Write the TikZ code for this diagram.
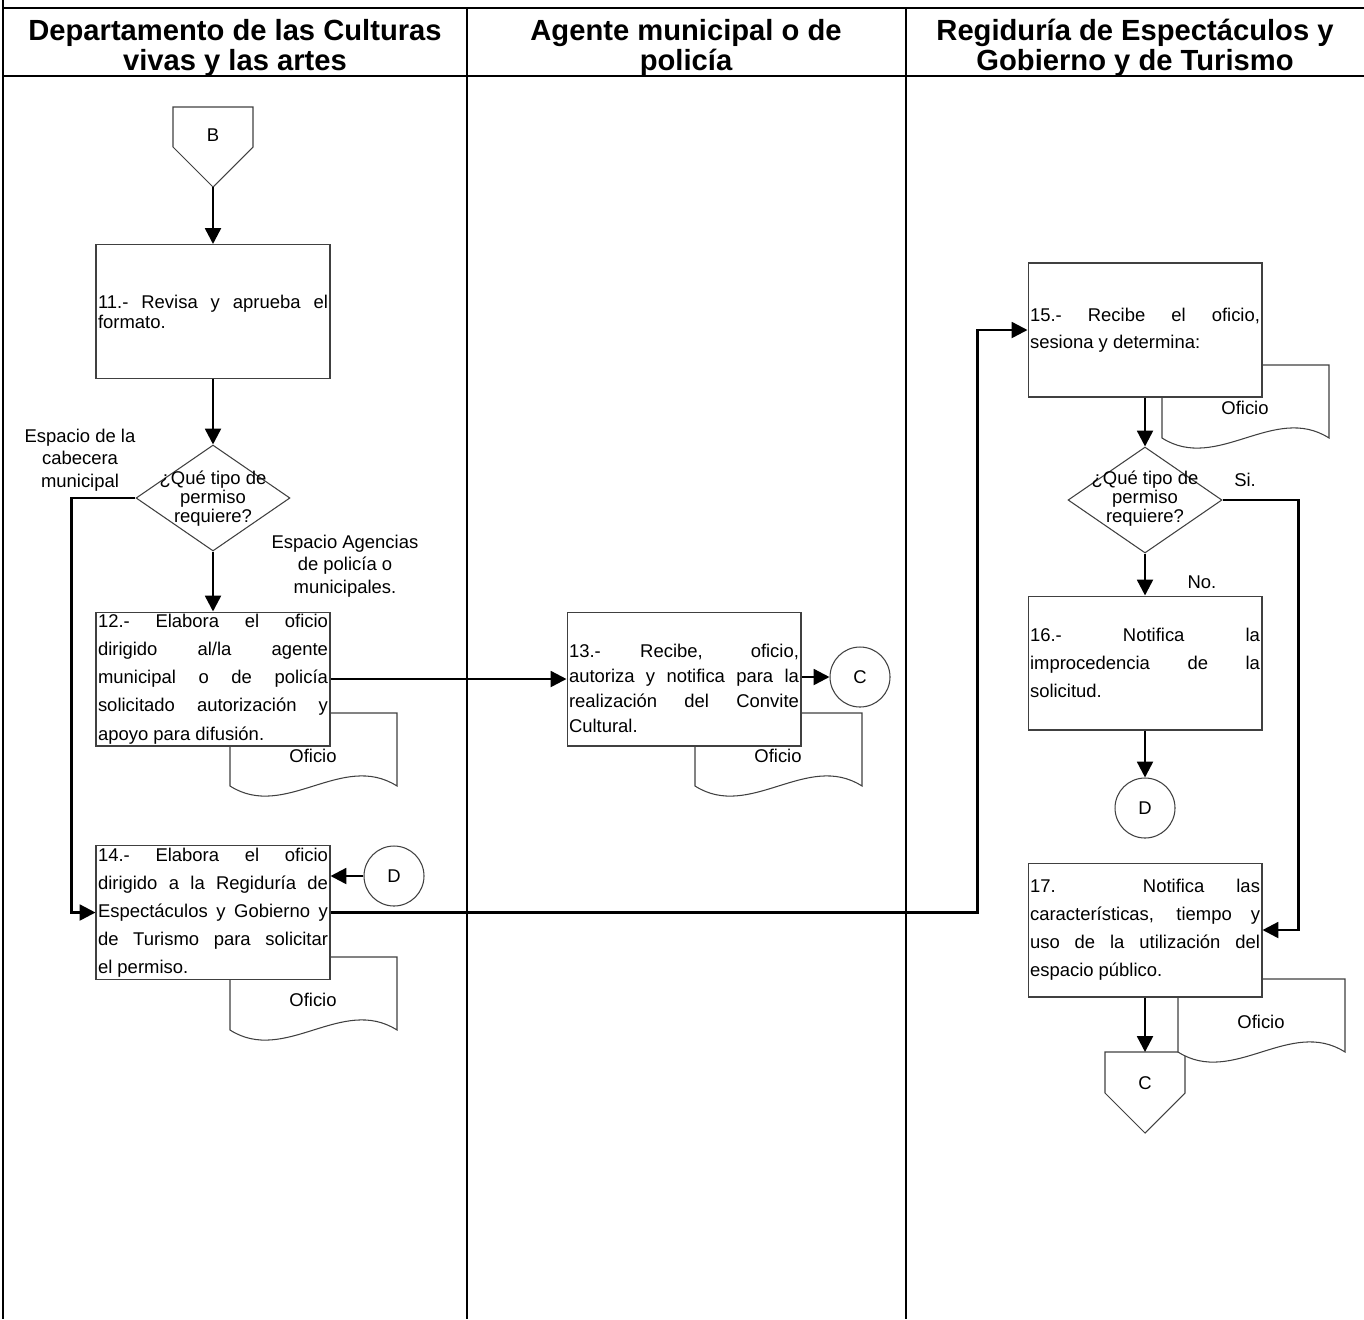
\documentclass[tikz,border=0pt]{standalone}
\usepackage{fontspec}
\setmainfont{Liberation Sans}
\usetikzlibrary{arrows.meta,shapes.geometric,calc}
\hbadness=10000
\newcommand\ofdoc[3]{%
  \draw[docline] (#1,#2) -- ++(167,0) -- ++(0,73) .. controls +(-55,-35) and +(55,35) .. ++(-167,0) -- cycle;
  \node[lbl] (#3) at (#1+83,#2+43) {Oficio};}
\begin{document}
\begin{tikzpicture}[x=0.02cm,y=-0.02cm,
  frame/.style={line width=1.6pt},
  shapeline/.style={draw=black!75, line width=0.6pt},
  docline/.style={shapeline, fill=white},
  box/.style={shapeline, fill=white, minimum width=4.68cm, minimum height=2.68cm,
    text width=4.6cm, inner xsep=0.04cm, inner ysep=0pt, align=justify,
    font=\fontsize{10.5}{16}\selectfont},
  dia/.style={shapeline, fill=white, shape=diamond, minimum width=3.08cm, minimum height=2.12cm, inner sep=0pt},
  dtext/.style={align=center, inner sep=0pt, font=\fontsize{10.5}{10.8}\selectfont},
  circ/.style={shapeline, fill=white, circle, minimum size=1.2cm, inner sep=0pt, font=\fontsize{10.5}{12}\selectfont},
  lbl/.style={inner sep=0pt, font=\fontsize{10.5}{12.7}\selectfont},
  head/.style={align=center, inner sep=0pt, font=\fontsize{16.6}{17}\selectfont\bfseries},
  arr/.style={line width=1.4pt, -{Triangle[length=9pt,width=9pt]}}]
\useasboundingbox (0,0) rectangle (1364,1319);
% frame
\draw[frame] (3,0) -- (3,1319);
\draw[frame] (3,8) -- (1364,8);
\draw[frame] (3,76) -- (1364,76);
\draw[frame] (467,8) -- (467,1319);
\draw[frame] (906,8) -- (906,1319);
% headers
\node[head] (h1) at (235,48) {Departamento de las Culturas\\vivas y las artes};
\node[head] (h2) at (686,48) {Agente municipal o de\\policía};
\node[head] (h3) at (1135,48) {Regiduría de Espectáculos y\\Gobierno y de Turismo};
% off-page B
\draw[shapeline] (173,107) -- (253,107) -- (253,147) -- (213,187) -- (173,147) -- cycle;
\node[lbl] (B) at (213,135) {B};
\coordinate (Bt) at (213,187);
% off-page C
\draw[shapeline] (1105,1052) -- (1185,1052) -- (1185,1093) -- (1145,1133) -- (1105,1093) -- cycle;
\node[lbl] (Cend) at (1145,1083) {C};
\coordinate (Ctop) at (1145,1052);
% documents (behind boxes)
\ofdoc{230}{713}{o12}
\ofdoc{695}{713}{o13}
\ofdoc{230}{957}{o14}
\ofdoc{1162}{365}{o15}
\ofdoc{1178}{979}{o17}
% boxes
\node[box, font=\fontsize{10.5}{11.5}\selectfont] (b11) at (213,311.5) {11.- Revisa y aprueba el\linebreak formato.};
\node[box] (b12) at (213,679) {12.- Elabora el oficio\linebreak dirigido al/la agente\linebreak municipal o de policía\linebreak solicitado autorización y\linebreak apoyo para difusión.};
\node[box, font=\fontsize{10.5}{14.2}\selectfont] (b13) at (684,679) {\rule{0pt}{18pt}13.- Recibe, oficio,\linebreak autoriza y notifica para la\linebreak realización del Convite\linebreak Cultural.};
\node[box] (b14) at (213,912.5) {14.- Elabora el oficio\linebreak dirigido a la Regiduría de\linebreak Espectáculos y Gobierno y\linebreak de Turismo para solicitar\linebreak el permiso.};
\node[box, font=\fontsize{10.5}{15.3}\selectfont] (b15) at (1145,330) {15.- Recibe el oficio,\linebreak sesiona y determina:};
\node[box] (b16) at (1145,663) {16.- Notifica la\linebreak improcedencia de la\linebreak solicitud.};
\node[box] (b17) at (1145,930) {17. Notifica las\linebreak características, tiempo y\linebreak uso de la utilización del\linebreak espacio público.};
% decisions
\node[dia] (d1) at (213,498) {};
\node[dtext] (d1t) at (213,499) {¿Qué tipo de\\permiso\\requiere?};
\node[dia] (d2) at (1145,500) {};
\node[dtext] (d2t) at (1145,499) {¿Qué tipo de\\permiso\\requiere?};
% connectors (circles)
\node[circ] (C1) at (860,677) {C};
\node[circ] (D1) at (394,876) {D};
\node[circ] (D2) at (1145,808) {D};
% labels
\node[lbl, align=center] (e1) at (80,460) {Espacio de la\\cabecera\\municipal};
\node[lbl, align=center] (e2) at (345,566) {Espacio Agencias\\de policía o\\municipales.};
\node[lbl] (si) at (1245,480) {Si.};
\node[lbl] (no) at (1202,582) {No.};
% arrows
\draw[arr] (Bt) -- (b11);
\draw[arr] (b11) -- (d1);
\draw[arr] (d1) -- (b12);
\draw[arr] (d1.west) -- ++(-64,0) |- (b14.west);
\draw[arr] (b12) -- (b12 -| b13.west);
\draw[arr] (b13.east |- C1) -- (C1);
\draw[arr] (D1) -- (D1 -| b14.east);
\draw[arr] (b14.east) -| ($(b15.west)+(-50,0)$) -- (b15.west);
\draw[arr] (b15) -- (d2);
\draw[arr] (d2) -- (b16);
\draw[arr] (b16) -- (D2);
\draw[arr] (d2.east) -- ++(76,0) |- (b17.east);
\draw[arr] (b17) -- (Ctop);
\end{tikzpicture}
\end{document}
